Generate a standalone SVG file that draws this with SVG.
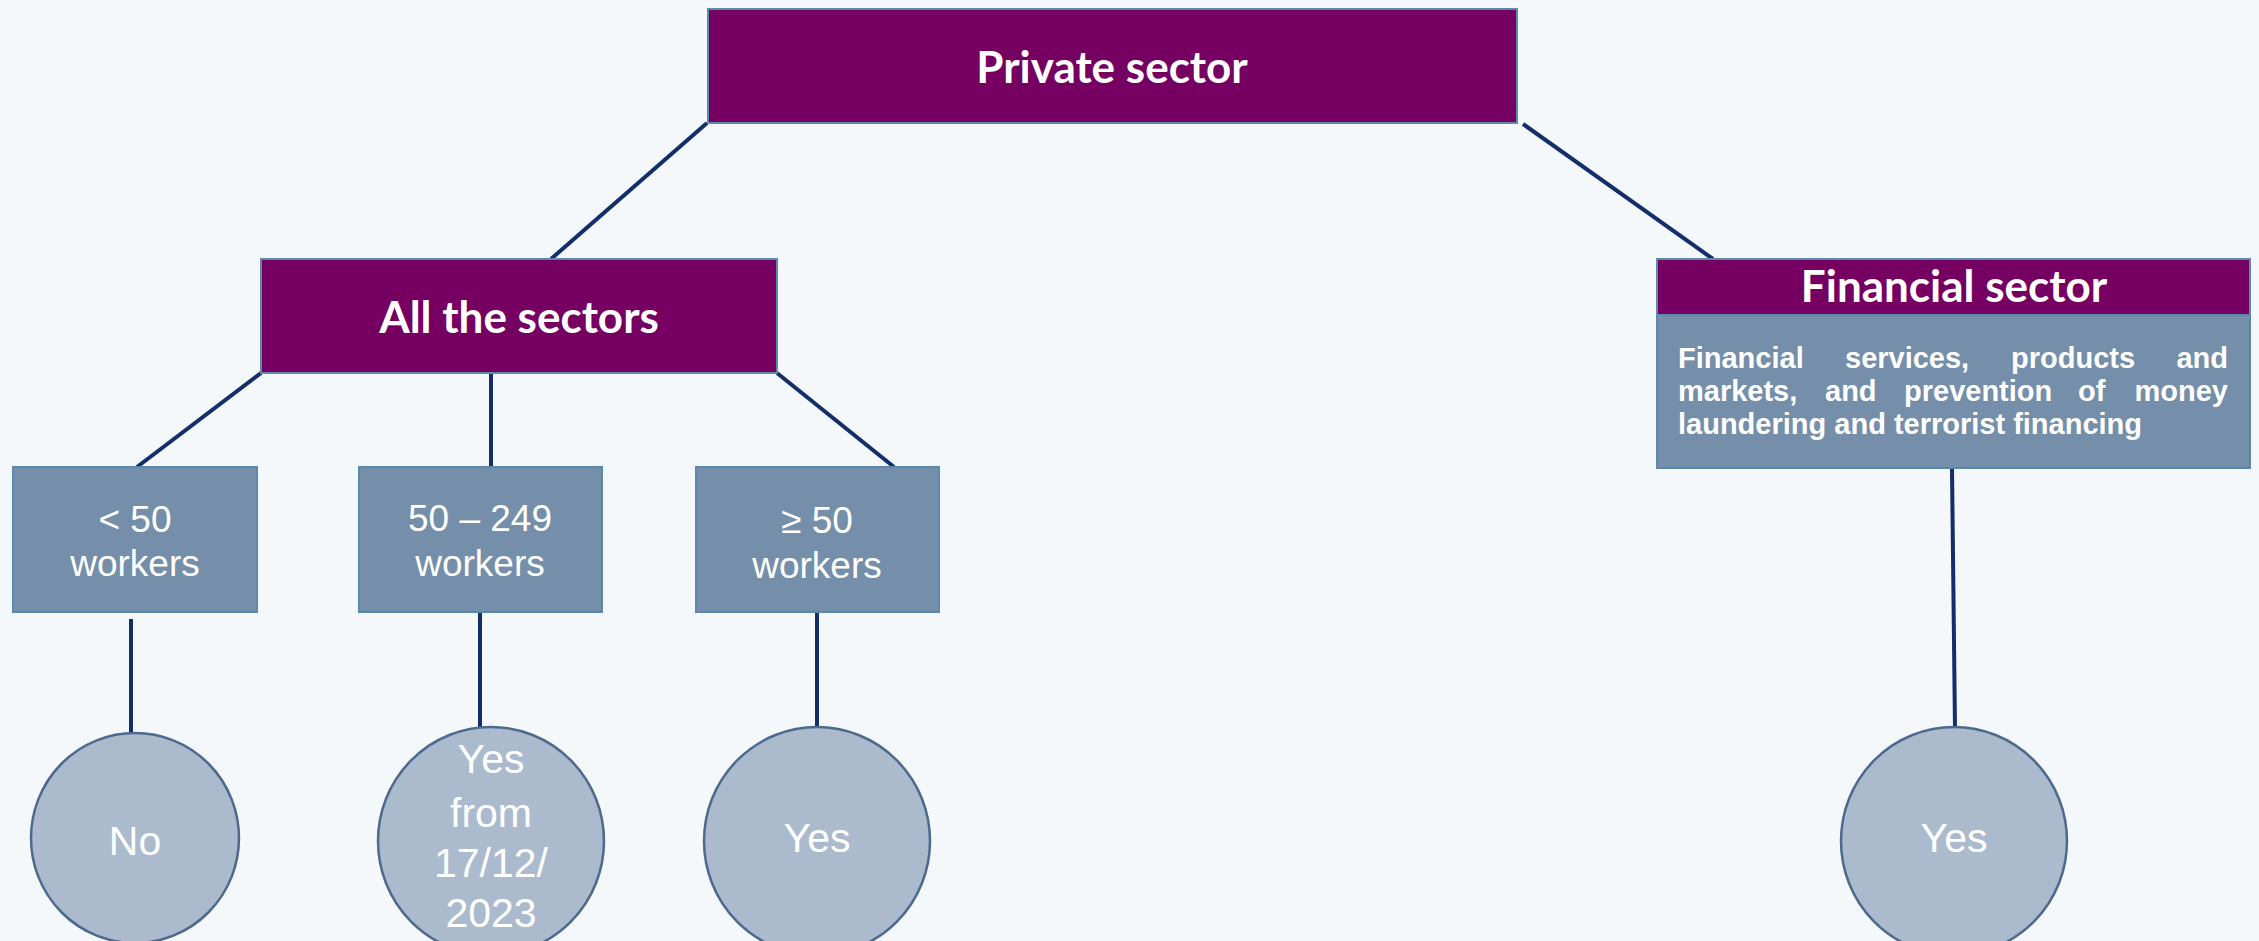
<svg xmlns="http://www.w3.org/2000/svg" width="2259" height="941" viewBox="0 0 2259 941">
  <style>
    .bg { fill: #f4f8fb; }
    .purple { fill: #760062; stroke: #5d8aab; stroke-width: 2; }
    .steel { fill: #758ea9; stroke: #5b89ad; stroke-width: 2; }
    .circ { fill: #abbacd; stroke: #4d6a8e; stroke-width: 2.5; }
    .conn { stroke: #132e6b; stroke-width: 4; fill: none; }
    .title { font-family: Lato, "Open Sans", sans-serif; font-weight: bold; font-size: 44px; fill: #ffffff; text-anchor: middle; }
    .lbl { font-family: "Liberation Sans", Arial, sans-serif; font-size: 37px; fill: #ffffff; text-anchor: middle; }
    .clbl { font-family: "Liberation Sans", Arial, sans-serif; font-size: 41px; fill: #ffffff; text-anchor: middle; }
    .body { font-family: "Liberation Sans", Arial, sans-serif; font-weight: bold; font-size: 29px; fill: #ffffff; }
  </style>
  <rect class="bg" x="0" y="0" width="2259" height="941"/>

  <g id="connectors">
    <line class="conn" x1="707" y1="123" x2="551" y2="259"/>
    <line class="conn" x1="1523" y1="124" x2="1713" y2="259"/>
    <line class="conn" x1="261" y1="373" x2="137" y2="467"/>
    <line class="conn" x1="491" y1="373" x2="491" y2="467"/>
    <line class="conn" x1="777" y1="373" x2="894" y2="467"/>
    <line class="conn" x1="131" y1="619" x2="131" y2="734"/>
    <line class="conn" x1="480" y1="612" x2="480" y2="728"/>
    <line class="conn" x1="817" y1="612" x2="817" y2="728"/>
    <line class="conn" x1="1952" y1="469" x2="1955" y2="728"/>
  </g>

  <g id="private-sector">
    <rect class="purple" x="708" y="9" width="809" height="114"/>
    <text class="title" x="1112" y="83">Private sector</text>
  </g>

  <g id="all-sectors">
    <rect class="purple" x="261" y="259" width="516" height="114"/>
    <text class="title" x="519" y="333">All the sectors</text>
  </g>

  <g id="financial-sector">
    <rect class="steel" x="1657" y="259" width="593" height="209"/>
    <rect class="purple" x="1657" y="259" width="593" height="56"/>
    <text class="title" x="1954" y="302">Financial sector</text>
    <text class="body" y="368"><tspan x="1678">Financial</tspan><tspan x="1845">services,</tspan><tspan x="2011">products</tspan><tspan x="2228" text-anchor="end">and</tspan></text>
    <text class="body" y="401"><tspan x="1678">markets,</tspan><tspan x="1825">and</tspan><tspan x="1904">prevention</tspan><tspan x="2078">of</tspan><tspan x="2228" text-anchor="end">money</tspan></text>
    <text class="body" x="1678" y="434">laundering and terrorist financing</text>
  </g>

  <g id="lt50">
    <rect class="steel" x="13" y="467" width="244" height="145"/>
    <text class="lbl" x="135" y="532">&lt; 50</text>
    <text class="lbl" x="135" y="576">workers</text>
  </g>

  <g id="50to249">
    <rect class="steel" x="359" y="467" width="243" height="145"/>
    <text class="lbl" x="480" y="531">50 – 249</text>
    <text class="lbl" x="480" y="576">workers</text>
  </g>

  <g id="ge50">
    <rect class="steel" x="696" y="467" width="243" height="145"/>
    <text class="lbl" x="817" y="533">≥ 50</text>
    <text class="lbl" x="817" y="578">workers</text>
  </g>

  <g id="no">
    <ellipse class="circ" cx="135" cy="838" rx="104" ry="105"/>
    <text class="clbl" x="135" y="855">No</text>
  </g>

  <g id="yes-from">
    <ellipse class="circ" cx="491" cy="841" rx="113" ry="114"/>
    <text class="clbl" x="491" y="773">Yes</text>
    <text class="clbl" x="491" y="827">from</text>
    <text class="clbl" x="491" y="877">17/12/</text>
    <text class="clbl" x="491" y="927">2023</text>
  </g>

  <g id="yes-ge50">
    <ellipse class="circ" cx="817" cy="841" rx="113" ry="114"/>
    <text class="clbl" x="817" y="852">Yes</text>
  </g>

  <g id="yes-financial">
    <ellipse class="circ" cx="1954" cy="841" rx="113" ry="114"/>
    <text class="clbl" x="1954" y="852">Yes</text>
  </g>
</svg>
